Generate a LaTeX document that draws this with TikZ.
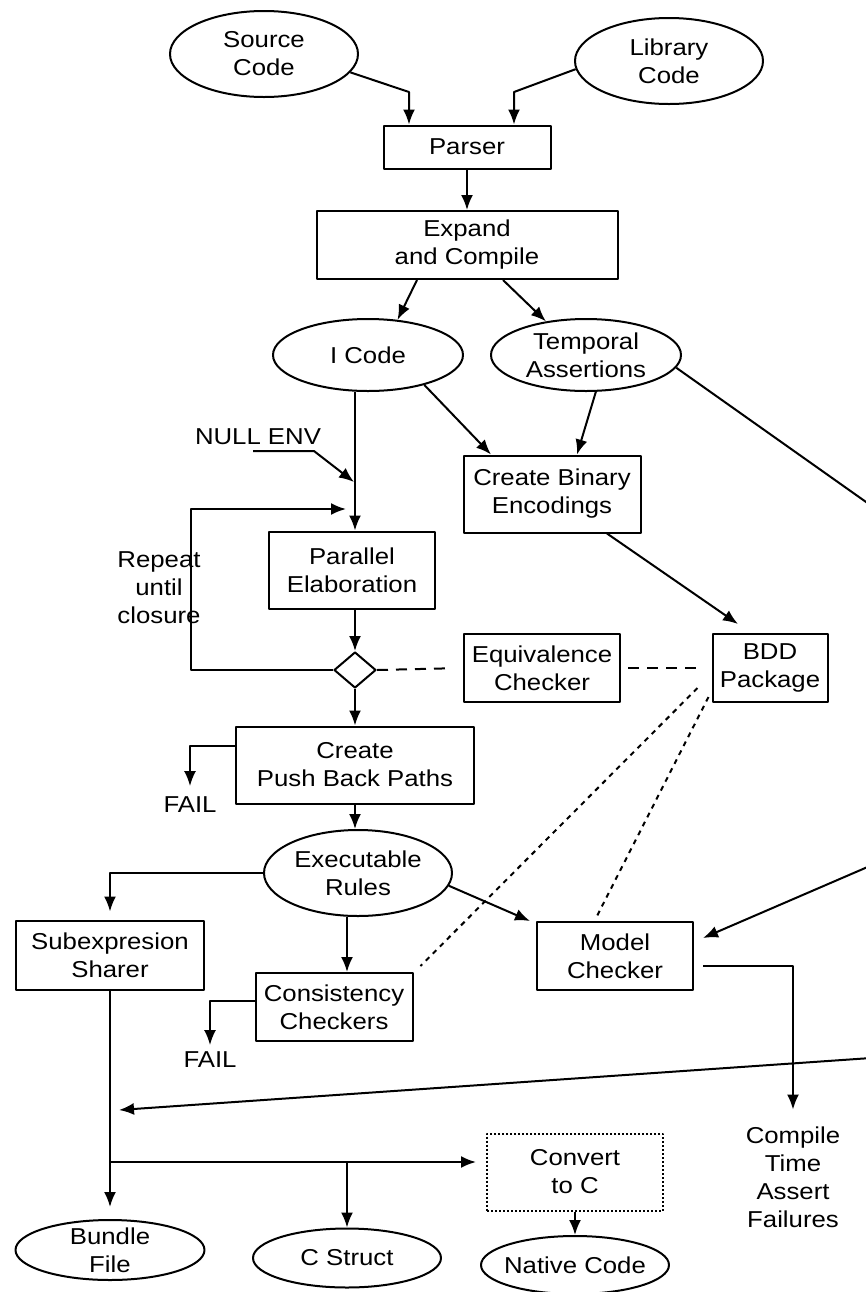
\documentclass[tikz,border=0pt]{standalone}
\usepackage{fontspec}
\setmainfont{Liberation Sans}[FakeStretch=1.12]
\usetikzlibrary{shapes.geometric,arrows.meta}

\begin{document}
\begin{tikzpicture}[
    x=0.5pt,
    y=-0.5pt,
    line width=1pt,
    line join=round,
    >={Latex[length=7.5pt,width=6pt]},
    every node/.style={font=\fontsize{11.5}{14}\selectfont, align=center, inner sep=0pt},
    box/.style={draw, rectangle},
    oval/.style={draw, ellipse},
    dashlink/.style={dash pattern=on 5.5pt off 4pt},
    dotlink/.style={dash pattern=on 2.5pt off 2.5pt}
]
    % 画布
    \useasboundingbox (0,0) rectangle (866,1292);
    \clip (0,0) rectangle (866,1292);
    \fill[white] (0,0) rectangle (866,1292);

    % 输入
    \node[oval, minimum width=94pt, minimum height=43pt] (src) at (264,54) {Source\\Code};
    \node[oval, minimum width=94pt, minimum height=43pt] (lib) at (669,61) {Library\\Code};

    % 前端
    \node[box, minimum width=83.5pt, minimum height=21.5pt] (parser) at (467,147) {Parser};
    \node[box, minimum width=150.5pt, minimum height=34pt] (expand) at (467,245) {Expand\\and Compile};
    \node[oval, minimum width=95pt, minimum height=36pt] (icode) at (368,355) {I Code};
    \node[oval, minimum width=95pt, minimum height=36pt] (temporal) at (586,355) {Temporal\\Assertions};

    % 中间部分
    \node[box, minimum width=88.5pt, minimum height=38.5pt] (cbe) at (552,494) {Create Binary\\Encodings};
    \node[box, minimum width=83pt, minimum height=38.5pt] (par) at (352,570) {Parallel\\Elaboration};
    \node[draw, diamond, minimum width=21pt, minimum height=18pt] (dia) at (355,670) {};
    \node[box, minimum width=78pt, minimum height=34pt] (equiv) at (542,668) {Equivalence\\Checker};
    \node[box, minimum width=57.5pt, minimum height=34pt] (bdd) at (770,668) {BDD\\Package};
    \node[box, minimum width=119pt, minimum height=38.5pt] (cpbp) at (355,765) {Create\\Push Back Paths};
    \node[oval, minimum width=94pt, minimum height=43pt] (exe) at (358,873) {Executable\\Rules};

    % 检查器
    \node[box, minimum width=94pt, minimum height=34.5pt] (sub) at (110,955) {Subexpresion\\Sharer};
    \node[box, minimum width=78.5pt, minimum height=34pt] (cons) at (334,1007) {Consistency\\Checkers};
    \node[box, minimum width=78pt, minimum height=34pt] (model) at (615,956) {Model\\Checker};

    % 输出
    \node[box, densely dotted, minimum width=88pt, minimum height=38.5pt] (conv) at (575,1172) {Convert\\to C};
    \node[oval, inner ysep=-2pt, minimum width=94.5pt, minimum height=30pt] (bundle) at (110,1250) {Bundle\\File};
    \node[oval, minimum width=94pt, minimum height=29.5pt] (cstr) at (347,1258) {C Struct};
    \node[oval, inner xsep=-4pt, minimum width=94pt, minimum height=29pt] (native) at (575,1265) {Native Code};

    % 文字
    \node (nullenv) at (258,437) {NULL ENV};
    \node (repeat) at (159,588) {Repeat\\until\\closure};
    \node (fail1) at (190,805) {FAIL};
    \node (fail2) at (210,1060) {FAIL};
    \node (ctaf) at (793,1177) {Compile\\Time\\Assert\\Failures};

    % 画面外的端点
    \coordinate (offa) at (900,526);
    \coordinate (offb) at (900,853);
    \coordinate (offc) at (900,1056);
    \coordinate (envin) at (354,482);
    \coordinate (loopin) at (346,509);
    \coordinate (shin) at (119,1110);
    \path ([yshift=5pt]conv.west) coordinate (convin);

    % 前端连线
    \draw[->] (src.-12) -- ([xshift=-29pt,yshift=16.25pt]parser.north) -- ([xshift=-29pt]parser.north);
    \draw[->] (lib.185) -- ([xshift=23.5pt,yshift=16.25pt]parser.north) -- ([xshift=23.5pt]parser.north);
    \draw[->] (parser) -- (expand);
    \draw[->] ([xshift=-25pt]expand.south) -- (icode.50);
    \draw[->] ([xshift=18pt]expand.south) -- (temporal.140);

    % 主干
    \draw[->] (icode.south -| dia) -- (par.north -| dia);
    \draw[->] ([xshift=-2.5pt,yshift=-2.5pt]nullenv.south) -- ([xshift=-4pt,yshift=-2.5pt]nullenv.south east) -- (envin);
    \draw[->] (par.south -| dia) -- (dia.north);
    \draw[->] (dia.west) -- ++(-142,0) |- (loopin);
    \draw[->] (dia.south) -- (cpbp.north -| dia);
    \draw[->] (cpbp.south -| dia) -- (exe.north -| dia);
    \draw[->, shorten >=5pt] ([yshift=9.75pt]cpbp.west) -| (fail1.north);

    % 编码与 BDD
    \draw[->] (icode.-28) -- ([xshift=-30.5pt]cbe.north);
    \draw[->] (temporal.-75) -- ([xshift=12.5pt]cbe.north);
    \draw[->] ([xshift=27.5pt]cbe.south) -- ([xshift=-16pt,yshift=4.5pt]bdd.north);
    \draw[dashlink, shorten >=5.5pt] (dia.east) -- (equiv.west);
    \draw[dashlink, shorten <=3.5pt, shorten >=7pt] (equiv.east) -- (bdd.west);
    \draw[dotlink] ([xshift=-7pt,yshift=-10pt]bdd.west) -- ([xshift=3.5pt,yshift=3pt]cons.north east);
    \draw[dotlink] ([xshift=-1.5pt,yshift=-14.5pt]bdd.west) -- ([xshift=-9pt,yshift=2.5pt]model.north);

    % 右侧长线
    \draw (temporal.-8) -- (offa);
    \draw[->] (offb) -- ([xshift=4.5pt,yshift=9pt]model.east);
    \draw[->] (offc) -- (shin);

    % 检查器连线
    \draw[->, shorten >=4pt] (exe.west) -| (sub.north);
    \draw[->] (exe.south -| cstr) -- (cons.north -| cstr);
    \draw[->] (exe.-8) -- ([xshift=-3pt]model.north west);
    \draw[->, shorten >=3pt] ([yshift=3pt]cons.west) -| (fail2.north);
    \draw[->, shorten >=8pt] ([xshift=4.5pt,yshift=-5pt]model.east) -| (ctaf.north);

    % 输出连线
    \draw[->, shorten >=6pt] (sub) -- (bundle);
    \draw[->, shorten >=5pt] (sub.south |- convin) -- (convin);
    \draw[->] (cstr.north |- convin) -- (cstr.north);
    \draw[->] (conv) -- (native);
\end{tikzpicture}
\end{document}
